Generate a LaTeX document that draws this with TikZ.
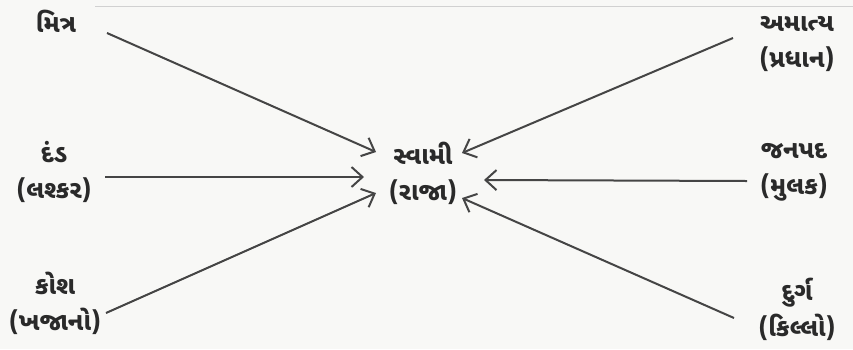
\documentclass[tikz,border=0pt]{standalone}
\usepackage{fontspec}
\newfontfamily\guj[Script=Gujarati]{Noto Sans Gujarati UI}
\usetikzlibrary{arrows.meta}
\definecolor{ink}{HTML}{2A2A2A}
\definecolor{lineink}{HTML}{454545}
\definecolor{paper}{HTML}{F8F8F6}
\tikzset{
  lbl/.style={text=ink, align=center, inner sep=0pt, font=\guj\bfseries\fontsize{25}{36}\selectfont},
  arr/.style={draw=lineink, line width=2pt, -{Straight Barb[length=11pt,width=20pt,line width=2pt]}},
}
\begin{document}
\begin{tikzpicture}[x=1pt,y=-1pt]
\fill[paper] (0,0) rectangle (853,349);
\useasboundingbox (0,0) rectangle (853,349);
\draw[black!18, line width=1pt] (95,6) -- (853,6);
% nodes
\node[lbl] (mitra) at (56,21) {મિત્ર};
\node[lbl] (danda) at (54,172) {દંડ\\(લશ્કર)};
\node[lbl] (kosha) at (55,303) {કોશ\\(ખજાનો)};
\node[lbl] (amatya) at (797,44) {અમાત્ય\\(પ્રધાન)};
\node[lbl] (janapada) at (794,172) {જનપદ\\(મુલક)};
\node[lbl] (durga) at (797,309) {દુર્ગ\\(કિલ્લો)};
\node[lbl] (swami) at (423,173) {સ્વામી\\(રાજા)};
% connector end points
\coordinate (m1) at (107,33);  \coordinate (m2) at (376,152);
\coordinate (d1) at (105,177); \coordinate (d2) at (364,177);
\coordinate (k1) at (106,313); \coordinate (k2) at (376,193);
\coordinate (a1) at (733,38);  \coordinate (a2) at (462,153);
\coordinate (j1) at (747,181); \coordinate (j2) at (484,180);
\coordinate (g1) at (734,318); \coordinate (g2) at (462,198);
\draw[arr] (m1) -- (m2);
\draw[arr] (d1) -- (d2);
\draw[arr] (k1) -- (k2);
\draw[arr] (a1) -- (a2);
\draw[arr] (j1) -- (j2);
\draw[arr] (g1) -- (g2);
\end{tikzpicture}
\end{document}
